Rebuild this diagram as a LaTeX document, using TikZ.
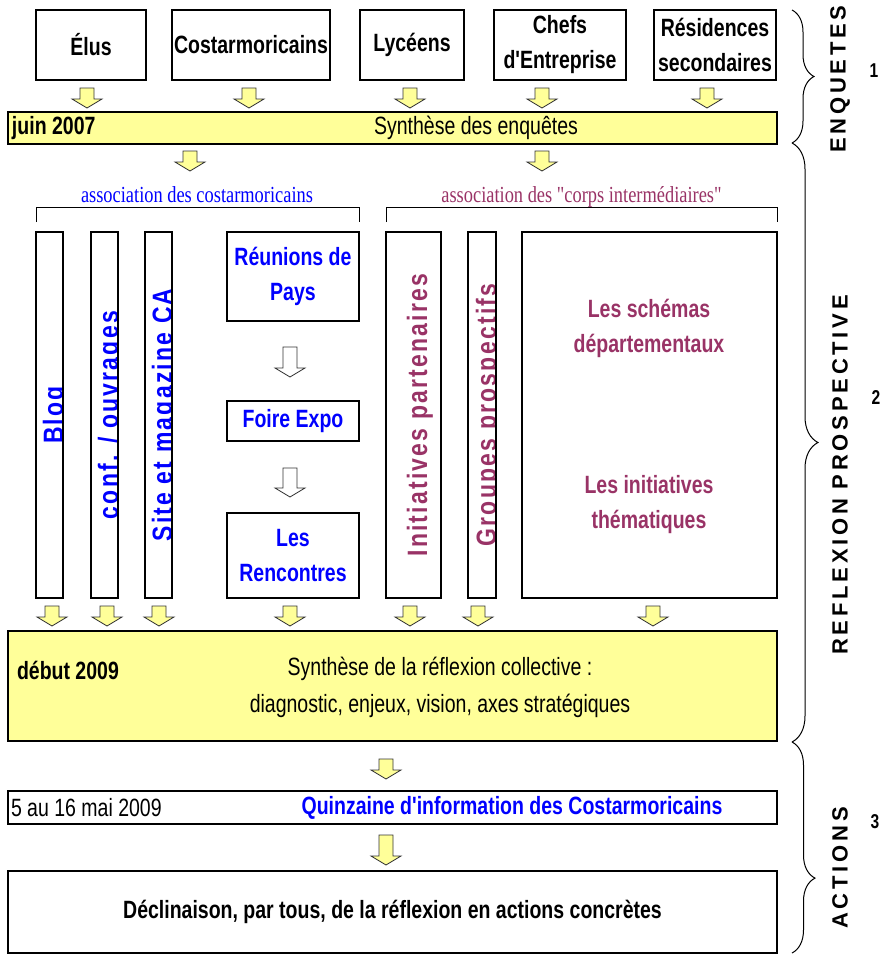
\documentclass[tikz,border=0pt]{standalone}
\usepackage{fontspec}
\setmainfont{Liberation Sans}[FakeStretch=0.78,Ligatures=TeXOff]
\newfontfamily\titrefont{Liberation Sans}[LetterSpace=17]
\newfontfamily\vertfont{Liberation Sans}[FakeStretch=0.82,LetterSpace=8]
\newfontfamily\assocfont{Liberation Serif}[FakeStretch=0.8,Ligatures=TeXOff]
\usetikzlibrary{positioning,calc,decorations.pathreplacing}
\definecolor{bleu}{RGB}{0,0,255}
\definecolor{prune}{RGB}{153,51,102}
\definecolor{jaune}{RGB}{255,255,153}
\newcommand\boxtxt{\fontsize{25}{35}\selectfont}
\newcommand\verttxt{\vertfont\bfseries\fontsize{28}{30}\selectfont}
\tikzset{
	pics/fleche/.style={code={
		\filldraw[line width=.8pt, draw=black!80] (-7,0) -- (7,0) -- (7,#1-9) -- (15,#1-9) -- (0,#1) -- (-15,#1-9) -- (-7,#1-9) -- cycle;
	}}
}

\begin{document}
\begin{tikzpicture}[
x=1pt, y=-1pt,
every node/.style = {
	align=center,
	inner sep=0pt,
	outer sep=0pt
},
box/.style = {
	draw,
	line width=1.2pt,
	font=\boxtxt\bfseries
},
bar/.style = {
	box,
	fill=jaune,
	minimum width=769
},
vbox/.style n args = {3}{
	box,
	minimum height=366,
	path picture={\node[rotate=90, anchor=base, text=#1, font=\verttxt] at ($(path picture bounding box.east)+(#3,0)$) {#2};}
},
assoc/.style = {
	anchor=base,
	font=\assocfont\fontsize{23}{26}\selectfont
},
phase/.style = {
	rotate=90,
	font=\titrefont\bfseries\fontsize{22}{24}\selectfont
},
num/.style = {
	font=\bfseries\fontsize{20}{22}\selectfont
}
]
\useasboundingbox (0,0) rectangle (881,954);

% enquetes
\node[box, minimum width=110, minimum height=70] (elus) at (91,45) {Élus};
\node[box, minimum width=158, minimum height=70] (costa) at (251,45) {Costarmoricains};
\node[box, minimum width=104, minimum height=70] (lyceens) at (412,45) {Lycéens};
\node[box, minimum width=132, minimum height=70] (chefs) at (560,45) {Chefs\\d'Entreprise};
\node[box, minimum width=122, minimum height=70] (resid) at (715,45) {Résidences\\secondaires};

\foreach \x in {87,249,410,542,707}
	\pic[fill=jaune] at (\x,88) {fleche=20};

\node[bar, minimum height=32] (synth) at (392.5,128) {};
\node[anchor=west, font=\boxtxt\bfseries] (juin) at ($(synth.west)+(4,0)$) {juin 2007};
\node[font=\boxtxt] (synthtxt) at (476,128) {Synthèse des enquêtes};

\pic[fill=jaune] at (190,151) {fleche=20};
\pic[fill=jaune] at (542,151) {fleche=20};

% les deux associations
\node[assoc, text=bleu] (asso1) at (197,202) {association des costarmoricains};
\draw[line width=1pt] (36,222) |- (359,207) -- (359,222);
\node[assoc, text=prune] (asso2) at (581.5,202) {association des "corps intermédiaires"};
\draw[line width=1pt] (386,222) |- (777,207) -- (777,222);

\node[vbox={bleu}{Blog}{0}, minimum width=27] (blog) at (49.5,415) {};
\node[vbox={bleu}{conf. / ouvrages}{0}, minimum width=27] (conf) at (104.5,415) {};
\node[vbox={bleu}{Site et magazine CA}{0}, minimum width=27] (site) at (158.5,415) {};

\node[box, text=bleu, minimum width=132, minimum height=89] (reunions) at (293,276.5) {Réunions de\\Pays};
\pic[fill=white] at (290,347) {fleche=30};
\node[box, text=bleu, minimum width=132, minimum height=40] (foire) at (293,421) {Foire Expo};
\pic[fill=white] at (290,468) {fleche=29};
\node[box, text=bleu, minimum width=132, minimum height=85] (rencontres) at (293,555.5) {Les\\Rencontres};

\node[vbox={prune}{Initiatives partenaires}{-14}, minimum width=55] (initpart) at (413.5,415) {};
\node[vbox={prune}{Groupes prospectifs}{0}, minimum width=28] (groupes) at (482,415) {};

\node[box, minimum width=255, minimum height=366] (schemas) at (649.5,415) {};
\node[text=prune, font=\boxtxt\bfseries] (schtxt) at (649,328) {Les schémas\\départementaux};
\node[text=prune, font=\boxtxt\bfseries] (inittxt) at (649,505) {Les initiatives\\thématiques};

\foreach \x in {52,107,159,290,410,478,653}
	\pic[fill=jaune] at (\x,606) {fleche=20};

% synthese
\node[bar, minimum height=110] (debut) at (392.5,686) {};
\node[anchor=west, font=\boxtxt\bfseries] (debuttxt) at ($(debut.west)+(9,-16)$) {début 2009};
\node[font=\fontsize{25}{37}\selectfont] (synthcoll) at (440,687) {Synthèse de la réflexion collective :\\diagnostic, enjeux, vision, axes stratégiques};

% actions
\pic[fill=jaune] at (386,759) {fleche=20};
\node[box, minimum width=769, minimum height=33] (quinz) at (392.5,807.5) {};
\node[anchor=west, font=\boxtxt] (dates) at ($(quinz.west)+(3,0)$) {5 au 16 mai 2009};
\node[font=\boxtxt\bfseries, text=bleu] (quinztxt) at (512,808) {Quinzaine d'information des Costarmoricains};
\pic[fill=jaune] at (386,835) {fleche=30};
\node[box, minimum width=769, minimum height=82] (declin) at (392.5,912) {Déclinaison, par tous, de la réflexion en actions concrètes};

% accolades
\draw[line width=1pt, decorate, decoration={brace, amplitude=22pt}] (792,10) -- (792,143);
\draw[line width=1pt, decorate, decoration={brace, amplitude=26pt}] (792,143) -- (792,742);
\draw[line width=1pt, decorate, decoration={brace, amplitude=23pt, aspect=0.645}] (792,742) -- (792,953);

\node[phase] (enq) at (840,79) {ENQUETES};
\node[phase] (reflex) at (840,475) {REFLEXION PROSPECTIVE};
\node[phase] (act) at (840,868) {ACTIONS};
\node[num] (n1) at (874,71) {1};
\node[num] (n2) at (876,398) {2};
\node[num] (n3) at (875,822) {3};

\end{tikzpicture}
\end{document}
